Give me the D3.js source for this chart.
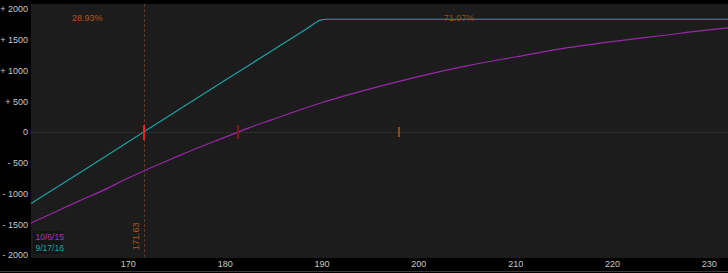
<!DOCTYPE html>
<html><head><meta charset="utf-8">
<script src="https://cdn.jsdelivr.net/npm/d3@7"></script>
<style>html,body{margin:0;padding:0;background:#000;}svg{display:block;}</style>
</head><body>
<svg id="c" width="728" height="273"></svg>
<script>
const xTicks = [170, 180, 190, 200, 210, 220, 230];
const yTicks = [2000, 1500, 1000, 500, 0, -500, -1000, -1500, -2000];
const yTickLabels = ["+ 2000", "+ 1500", "+ 1000", "+ 500", "0", "- 500", "- 1000", "- 1500", "- 2000"];
const priceA = [160, 162.5, 165, 167.5, 170, 171.63, 175, 177.5, 180, 182.5, 185, 187.5, 190, 195, 200, 205, 210, 215, 220, 225, 230, 232];
const valueA = [-1480, -1300, -1120, -945, -753, -634, -405, -240, -88, 68, 205, 345, 476, 700, 900, 1075, 1220, 1360, 1470, 1565, 1660, 1692];
const priceB = [160, 165, 171.63, 180, 185, 189, 189.5, 190, 190.5, 200, 210, 220, 232];
const valueB = [-1163, -665, 0, 837, 1335, 1735, 1790, 1822, 1833, 1833, 1833, 1833, 1833];
const legendLabels = ["10/6/15", "9/17/16"];
const breakeven = 171.63;
const probLabels = ["28.93%", "71.07%"];
const probPos = [165.8, 204.2];
const markers = [171.63, 181.4, 198.0];

const svg = d3.select("#c");
const W = 728, H = 273;
const padL = 31, padT = 4, padB = 258;
const x = d3.scaleLinear().domain([160, 232]).range([31, 728.2]);
const y = d3.scaleLinear().domain([-2000, 2000]).range([255, 9]);
const FONT = "Liberation Sans, Arial, sans-serif";
const px = v => Math.round(x(v)) + 0.5;

svg.append("rect").attr("width", W).attr("height", H).attr("fill", "#000");
svg.append("rect").attr("x", padL).attr("y", padT).attr("width", W - padL).attr("height", padB - padT).attr("fill", "#1c1c1c");
svg.append("line").attr("x1", 0).attr("x2", W).attr("y1", 271.5).attr("y2", 271.5).attr("stroke", "#3a3a3a");

// zero line
svg.append("line").attr("x1", padL).attr("x2", W).attr("y1", Math.round(y(0)) + 0.5).attr("y2", Math.round(y(0)) + 0.5)
  .attr("stroke", "#3c3c3c").attr("stroke-dasharray", "1,1");

// axes
const yAxis = d3.axisLeft(y).tickValues(yTicks).tickSize(0).tickPadding(2)
  .tickFormat((d, i) => yTickLabels[i]);
const gy = svg.append("g").attr("transform", `translate(${padL - 1},0)`).call(yAxis);
gy.select(".domain").remove();
gy.selectAll("text").attr("fill", "#c8c8c8").style("fill", "#c8c8c8").attr("font-family", FONT).attr("font-size", "9px");

const xAxis = d3.axisBottom(x).tickValues(xTicks).tickSize(0).tickPadding(0).tickFormat(d3.format("d"));
const gx = svg.append("g").attr("transform", `translate(0,${padB + 1})`).call(xAxis);
gx.select(".domain").remove();
gx.selectAll("text").attr("fill", "#c8c8c8").attr("font-family", FONT).attr("font-size", "9px").attr("dy", "0.9em");

// breakeven dashed line
svg.append("line").attr("x1", px(breakeven)).attr("x2", px(breakeven)).attr("y1", padT).attr("y2", padB)
  .attr("stroke", "#6a381a").attr("stroke-width", 1).attr("stroke-dasharray", "3,2")
  .attr("shape-rendering", "crispEdges");

// lines
const line = d3.line().x(d => x(d[0])).y(d => y(d[1])).curve(d3.curveMonotoneX);
svg.append("path").datum(priceA.map((p, i) => [p, valueA[i]])).attr("d", line)
  .attr("fill", "none").attr("stroke", "#9a28aa").attr("stroke-width", 1.2);
svg.append("path").datum(priceB.map((p, i) => [p, valueB[i]])).attr("d", line)
  .attr("fill", "none").attr("stroke", "#1aa3a3").attr("stroke-width", 1.2);

// markers
const mColors = ["#ff1a1a", "#7a1c1c", "#8a4a12"];
const mHalf = [7.5, 7, 5];
markers.forEach((m, i) => {
  svg.append("line").attr("x1", Math.round(x(m))).attr("x2", Math.round(x(m))).attr("y1", y(0) - mHalf[i]).attr("y2", y(0) + mHalf[i])
    .attr("stroke", mColors[i]).attr("stroke-width", 2).attr("shape-rendering", "crispEdges");
});

// probability labels
probLabels.forEach((t, i) => {
  svg.append("text").attr("x", x(probPos[i])).attr("y", 21).attr("text-anchor", "middle")
    .attr("fill", i === 0 ? "#b5561a" : "#8a5018").attr("font-family", FONT).attr("font-size", "9px").text(t);
});

// breakeven label rotated
svg.append("text").attr("transform", `translate(${x(breakeven) - 5},${250}) rotate(-90)`)
  .attr("fill", "#b5561a").attr("font-family", FONT).attr("font-size", "9px").text("171.63");

// legend
svg.append("rect").attr("x", 33).attr("y", 231).attr("width", 28).attr("height", 23).attr("fill", "#141414").attr("rx", 1);
const legColors = ["#b030c0", "#1aa8a8"];
legendLabels.forEach((t, i) => {
  svg.append("text").attr("x", 35.5).attr("y", 240 + i * 10.5).attr("fill", legColors[i])
    .attr("font-family", FONT).attr("font-size", "8.5px").text(t);
});
</script>
</body></html>
